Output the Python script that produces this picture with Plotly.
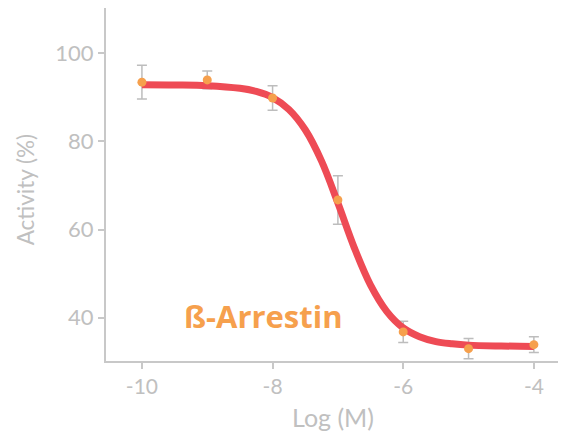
import plotly.graph_objects as go

# measured points
log_m = [-10, -9, -8, -7, -6, -5, -4]
activity = [93.4, 93.9, 89.8, 66.7, 36.8, 33.0, 33.9]
err = [3.8, 2.0, 2.8, 5.5, 2.4, 2.3, 1.8]

# fitted curve
curve_x = [-10, -9.5, -9, -8.5, -8.25, -8, -7.75, -7.5, -7.25, -7.0, -6.75,
           -6.5, -6.25, -6.0, -5.75, -5.5, -5.25, -5.0, -4.5, -4.0]
curve_y = [92.8, 92.75, 92.6, 92.0, 91.3, 89.9, 87.2, 82.6, 75.5, 66.0, 55.9,
           47.4, 41.4, 37.7, 35.7, 34.6, 34.1, 33.8, 33.6, 33.5]

x_ticks = [-10, -8, -6, -4]
x_tick_text = ["-10", "-8", "-6", "-4"]
y_ticks = [40, 60, 80, 100]
label = "ß-Arrestin"
x_title = "Log (M)"
y_title = "Activity (%)"

grey = "#c8c8c8"
txt = "#c0c0c0"
font = "Lato, 'Open Sans', sans-serif"

fig = go.Figure()
fig.add_trace(go.Scatter(
    x=log_m, y=activity, mode="markers",
    marker=dict(color="rgba(0,0,0,0)", size=1),
    error_y=dict(type="data", array=err, color="#bdbdbd", thickness=1.5, width=5),
    showlegend=False, hoverinfo="skip"))
fig.add_trace(go.Scatter(
    x=curve_x, y=curve_y, mode="lines", line=dict(color="#ee4b55", width=7, shape="spline"),
    showlegend=False))
fig.add_trace(go.Scatter(
    x=log_m, y=activity, mode="markers",
    marker=dict(color="#f6a04d", size=9),
    showlegend=False))

fig.add_annotation(x=-8.14, y=40.4, text="<b>" + label + "</b>", showarrow=False,
                   font=dict(family="'Open Sans', sans-serif", size=31, color="#f6a04d"))

# y-axis title placed as rotated text
fig.add_annotation(xref="paper", yref="paper", x=-0.178, y=0.484, text=y_title,
                   textangle=-90, showarrow=False, xanchor="center", yanchor="middle",
                   font=dict(family=font, size=22.5, color=txt))

# page body has an 8px margin, so the figure is offset by 8px
fig.update_layout(
    width=558, height=431,
    margin=dict(l=98, r=6, t=0, b=78, autoexpand=False),
    paper_bgcolor="white", plot_bgcolor="white",
    font=dict(family=font, color=txt),
)
fig.update_xaxes(range=[-10.55, -3.6], tickvals=x_ticks, ticktext=x_tick_text,
                 showgrid=False, zeroline=False, showline=True, linecolor=grey, linewidth=2,
                 ticks="outside", ticklen=6, tickwidth=1.5, tickcolor=grey,
                 tickfont=dict(size=21, color=txt),
                 title=dict(text=x_title, font=dict(size=25, color=txt), standoff=12))
fig.update_yaxes(range=[30.2, 110.2], tickvals=y_ticks,
                 showgrid=False, zeroline=False, showline=True, linecolor=grey, linewidth=2,
                 ticks="outside", ticklen=6, tickwidth=1.5, tickcolor=grey,
                 tickfont=dict(size=22, color=txt))

fig.write_html("out.html")
